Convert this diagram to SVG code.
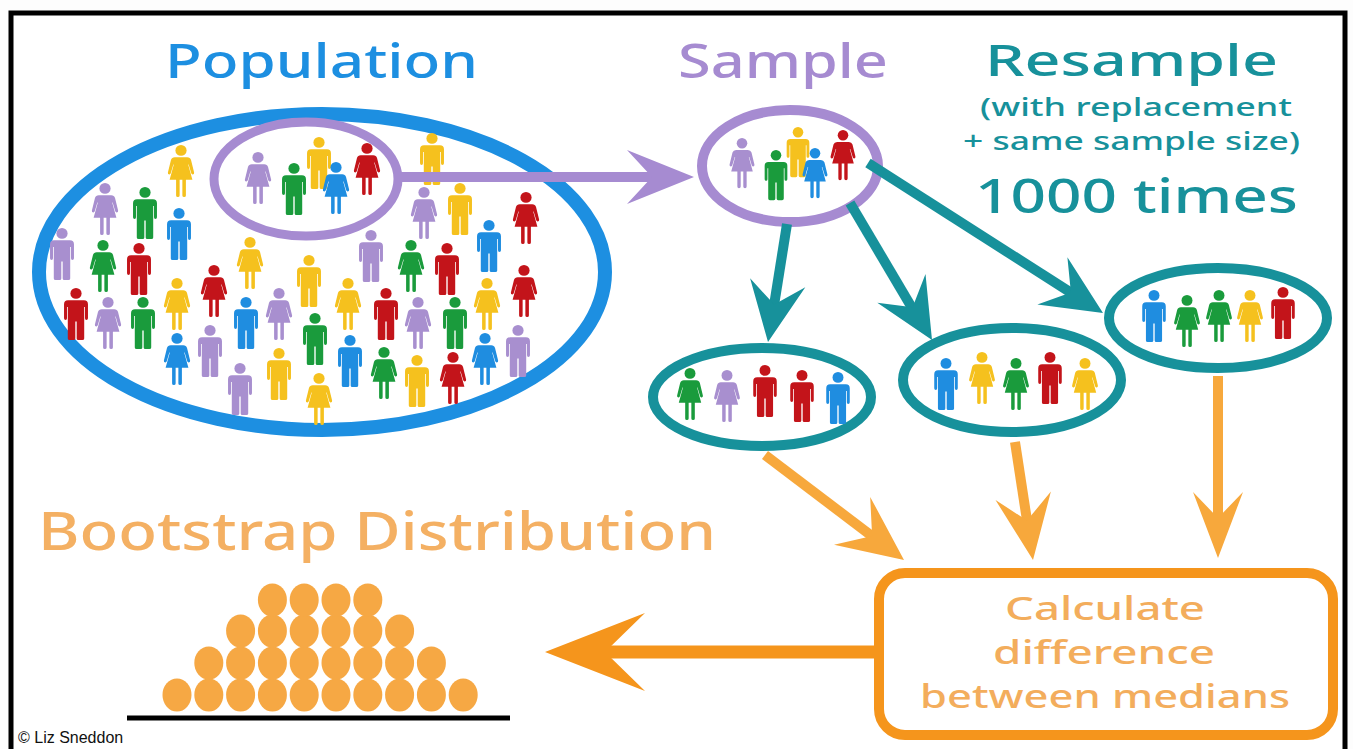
<svg xmlns="http://www.w3.org/2000/svg" xmlns:xlink="http://www.w3.org/1999/xlink" width="1353" height="749" viewBox="0 0 1353 749">
<style>
  .title{font-family:"Noto Sans","DejaVu Sans",sans-serif;font-weight:500}
  .sub{font-family:"Noto Sans","DejaVu Sans",sans-serif;font-weight:500}
  .b{fill:#1f8de0}.g{fill:#1a9b3c}.y{fill:#f5c11e}.r{fill:#c3141a}.p{fill:#a88fcf}
  .teal{stroke:#17919b;fill:none;stroke-width:10}
  .tealhead{fill:#17919b}
  .org{stroke:#f7a83c;fill:none;stroke-width:10}
  .orghead{fill:#f7a83c}
  .dot{fill:#f6a844}
</style>
<defs>
  <!-- pictogram figures, origin at top centre of head, about 46 units tall -->
  <g id="man">
    <circle cx="0" cy="4.8" r="4.9"/>
    <path d="M -7,11 H 7 Q 10.5,11 10.5,14.5 V 27 Q 10.5,28.5 9.1,28.5 Q 7.9,28.5 7.9,27 V 17 H 7.2 V 45 Q 7.2,46.5 5.6,46.5 H 2 Q 0.6,46.5 0.6,45 V 30 H -0.6 V 45 Q -0.6,46.5 -2,46.5 H -5.6 Q -7.2,46.5 -7.2,45 V 17 H -7.9 V 27 Q -7.9,28.5 -9.1,28.5 Q -10.5,28.5 -10.5,27 V 14.5 Q -10.5,11 -7,11 Z"/>
  </g>
  <g id="woman">
    <circle cx="0" cy="4.8" r="4.9"/>
    <path d="M -5.5,11 H 5.5 Q 8,11 8.8,13.5 L 11.5,24.5 Q 11.8,26 10.5,26.3 Q 9.3,26.5 9,25.3 L 6.7,17.5 L 6.3,17.5 L 10,31 H 4.3 V 45 Q 4.3,46.5 2.8,46.5 Q 1.2,46.5 1.2,45 V 31 H -1.2 V 45 Q -1.2,46.5 -2.8,46.5 Q -4.3,46.5 -4.3,45 V 31 H -10 L -6.3,17.5 L -6.7,17.5 L -9,25.3 Q -9.3,26.5 -10.5,26.3 Q -11.8,26 -11.5,24.5 L -8.8,13.5 Q -8,11 -5.5,11 Z"/>
  </g>
</defs>

<rect x="0" y="0" width="1353" height="749" fill="#fdfdfd"/>
<!-- outer frame -->
<rect x="11" y="13" width="1334" height="760" fill="#ffffff" stroke="#000" stroke-width="5"/>

<!-- headings -->
<g id="labels">
  <text class="title" x="165" y="78" font-size="48" fill="#1d8fe1" textLength="313" lengthAdjust="spacingAndGlyphs">Population</text>
  <text class="title" x="678" y="78" font-size="48" fill="#a68bd1" textLength="210" lengthAdjust="spacingAndGlyphs">Sample</text>
  <text class="title" x="985" y="76" font-size="44" fill="#17919b" textLength="293" lengthAdjust="spacingAndGlyphs">Resample</text>
  <text class="sub" x="980" y="116" font-size="25" fill="#17919b" textLength="312" lengthAdjust="spacingAndGlyphs">(with replacement</text>
  <text class="sub" x="963" y="150" font-size="25" fill="#17919b" textLength="337" lengthAdjust="spacingAndGlyphs">+ same sample size)</text>
  <text class="title" x="975" y="213" font-size="48" fill="#17919b" textLength="323" lengthAdjust="spacingAndGlyphs">1000 times</text>
  <text class="title" x="38" y="550" font-size="52" fill="#f4b063" textLength="678" lengthAdjust="spacingAndGlyphs">Bootstrap Distribution</text>
  <text x="18" y="743" font-family="Liberation Sans, Arial, sans-serif" font-size="16" fill="#111">© Liz Sneddon</text>
</g>

<!-- population -->
<g id="population">
  <ellipse cx="322" cy="272" rx="283" ry="158" fill="none" stroke="#1d8fe1" stroke-width="14"/>
  <g transform="translate(181,145) scale(1.14,1.12)"><use xlink:href="#woman" class="y"/></g>
  <g transform="translate(258,152) scale(1.14,1.12)"><use xlink:href="#woman" class="p"/></g>
  <g transform="translate(294,163) scale(1.14,1.12)"><use xlink:href="#man" class="g"/></g>
  <g transform="translate(319,137) scale(1.14,1.12)"><use xlink:href="#man" class="y"/></g>
  <g transform="translate(336,162) scale(1.14,1.12)"><use xlink:href="#woman" class="b"/></g>
  <g transform="translate(367,143) scale(1.14,1.12)"><use xlink:href="#woman" class="r"/></g>
  <g transform="translate(432,133) scale(1.14,1.12)"><use xlink:href="#man" class="y"/></g>
  <g transform="translate(105,183) scale(1.14,1.12)"><use xlink:href="#woman" class="p"/></g>
  <g transform="translate(145,187) scale(1.14,1.12)"><use xlink:href="#man" class="g"/></g>
  <g transform="translate(179,208) scale(1.14,1.12)"><use xlink:href="#man" class="b"/></g>
  <g transform="translate(424,187) scale(1.14,1.12)"><use xlink:href="#woman" class="p"/></g>
  <g transform="translate(460,183) scale(1.14,1.12)"><use xlink:href="#man" class="y"/></g>
  <g transform="translate(526,192) scale(1.14,1.12)"><use xlink:href="#woman" class="r"/></g>
  <g transform="translate(62,228) scale(1.14,1.12)"><use xlink:href="#man" class="p"/></g>
  <g transform="translate(103,240) scale(1.14,1.12)"><use xlink:href="#woman" class="g"/></g>
  <g transform="translate(139,243) scale(1.14,1.12)"><use xlink:href="#man" class="r"/></g>
  <g transform="translate(250,237) scale(1.14,1.12)"><use xlink:href="#woman" class="y"/></g>
  <g transform="translate(371,230) scale(1.14,1.12)"><use xlink:href="#man" class="p"/></g>
  <g transform="translate(489,220) scale(1.14,1.12)"><use xlink:href="#man" class="b"/></g>
  <g transform="translate(411,240) scale(1.14,1.12)"><use xlink:href="#woman" class="g"/></g>
  <g transform="translate(447,243) scale(1.14,1.12)"><use xlink:href="#man" class="r"/></g>
  <g transform="translate(214,265) scale(1.14,1.12)"><use xlink:href="#woman" class="r"/></g>
  <g transform="translate(309,255) scale(1.14,1.12)"><use xlink:href="#man" class="y"/></g>
  <g transform="translate(524,265) scale(1.14,1.12)"><use xlink:href="#woman" class="r"/></g>
  <g transform="translate(76,288) scale(1.14,1.12)"><use xlink:href="#man" class="r"/></g>
  <g transform="translate(108,297) scale(1.14,1.12)"><use xlink:href="#woman" class="p"/></g>
  <g transform="translate(143,297) scale(1.14,1.12)"><use xlink:href="#man" class="g"/></g>
  <g transform="translate(177,278) scale(1.14,1.12)"><use xlink:href="#woman" class="y"/></g>
  <g transform="translate(246,297) scale(1.14,1.12)"><use xlink:href="#man" class="b"/></g>
  <g transform="translate(279,288) scale(1.14,1.12)"><use xlink:href="#woman" class="p"/></g>
  <g transform="translate(348,278) scale(1.14,1.12)"><use xlink:href="#woman" class="y"/></g>
  <g transform="translate(386,288) scale(1.14,1.12)"><use xlink:href="#man" class="r"/></g>
  <g transform="translate(418,297) scale(1.14,1.12)"><use xlink:href="#woman" class="p"/></g>
  <g transform="translate(455,297) scale(1.14,1.12)"><use xlink:href="#man" class="g"/></g>
  <g transform="translate(487,278) scale(1.14,1.12)"><use xlink:href="#woman" class="y"/></g>
  <g transform="translate(177,333) scale(1.14,1.12)"><use xlink:href="#woman" class="b"/></g>
  <g transform="translate(210,325) scale(1.14,1.12)"><use xlink:href="#man" class="p"/></g>
  <g transform="translate(315,313) scale(1.14,1.12)"><use xlink:href="#man" class="g"/></g>
  <g transform="translate(350,335) scale(1.14,1.12)"><use xlink:href="#man" class="b"/></g>
  <g transform="translate(240,363) scale(1.14,1.12)"><use xlink:href="#man" class="p"/></g>
  <g transform="translate(279,348) scale(1.14,1.12)"><use xlink:href="#man" class="y"/></g>
  <g transform="translate(384,347) scale(1.14,1.12)"><use xlink:href="#woman" class="g"/></g>
  <g transform="translate(417,355) scale(1.14,1.12)"><use xlink:href="#man" class="y"/></g>
  <g transform="translate(453,352) scale(1.14,1.12)"><use xlink:href="#woman" class="r"/></g>
  <g transform="translate(485,333) scale(1.14,1.12)"><use xlink:href="#woman" class="b"/></g>
  <g transform="translate(518,325) scale(1.14,1.12)"><use xlink:href="#man" class="p"/></g>
  <g transform="translate(319,373) scale(1.14,1.12)"><use xlink:href="#woman" class="y"/></g>
  <!-- ring picking out the sample -->
  <ellipse cx="306" cy="179" rx="92" ry="57" fill="none" stroke="#a68bd1" stroke-width="9"/>
</g>

<!-- sample -->
<g id="sample">
  <ellipse cx="790" cy="166" rx="88" ry="56" fill="none" stroke="#a68bd1" stroke-width="10"/>
  <g transform="translate(742,138) scale(1.08)"><use xlink:href="#woman" class="p"/></g>
  <g transform="translate(776,150) scale(1.08)"><use xlink:href="#man" class="g"/></g>
  <g transform="translate(798,127) scale(1.08)"><use xlink:href="#man" class="y"/></g>
  <g transform="translate(815,148) scale(1.08)"><use xlink:href="#woman" class="b"/></g>
  <g transform="translate(843,130) scale(1.08)"><use xlink:href="#woman" class="r"/></g>
</g>

<!-- resamples -->
<g id="resample1">
  <ellipse cx="762" cy="397" rx="109" ry="49" fill="none" stroke="#17919b" stroke-width="10"/>
  <g transform="translate(690,368) scale(1.12)"><use xlink:href="#woman" class="g"/></g>
  <g transform="translate(727,370) scale(1.12)"><use xlink:href="#woman" class="p"/></g>
  <g transform="translate(765,365) scale(1.12)"><use xlink:href="#man" class="r"/></g>
  <g transform="translate(802,370) scale(1.12)"><use xlink:href="#man" class="r"/></g>
  <g transform="translate(838,372) scale(1.12)"><use xlink:href="#man" class="b"/></g>
</g>
<g id="resample2">
  <ellipse cx="1012" cy="380" rx="109" ry="52" fill="none" stroke="#17919b" stroke-width="10"/>
  <g transform="translate(946,358) scale(1.12)"><use xlink:href="#man" class="b"/></g>
  <g transform="translate(982,352) scale(1.12)"><use xlink:href="#woman" class="y"/></g>
  <g transform="translate(1016,358) scale(1.12)"><use xlink:href="#woman" class="g"/></g>
  <g transform="translate(1050,352) scale(1.12)"><use xlink:href="#man" class="r"/></g>
  <g transform="translate(1085,358) scale(1.12)"><use xlink:href="#woman" class="y"/></g>
</g>
<g id="resample3">
  <ellipse cx="1218" cy="318" rx="109" ry="50" fill="none" stroke="#17919b" stroke-width="10"/>
  <g transform="translate(1154,290) scale(1.12)"><use xlink:href="#man" class="b"/></g>
  <g transform="translate(1187,295) scale(1.12)"><use xlink:href="#woman" class="g"/></g>
  <g transform="translate(1219,290) scale(1.12)"><use xlink:href="#woman" class="g"/></g>
  <g transform="translate(1250,290) scale(1.12)"><use xlink:href="#woman" class="y"/></g>
  <g transform="translate(1283,287) scale(1.12)"><use xlink:href="#man" class="r"/></g>
</g>

<!-- calculation box -->
<g id="calculate">
  <rect x="879" y="573" width="454" height="162" rx="26" fill="#fff" stroke="#f5951c" stroke-width="10"/>
  <g class="sub" font-size="32" fill="#f3ad5c" text-anchor="middle">
    <text x="1105" y="620" textLength="200" lengthAdjust="spacingAndGlyphs">Calculate</text>
    <text x="1104" y="664" textLength="222" lengthAdjust="spacingAndGlyphs">difference</text>
    <text x="1105" y="708" textLength="370" lengthAdjust="spacingAndGlyphs">between medians</text>
  </g>
</g>

<!-- bootstrap distribution dot plot -->
<g id="distribution">
  <g class="dot">
    <ellipse cx="177" cy="695" rx="14.5" ry="16.5"/><ellipse cx="208.8" cy="695" rx="14.5" ry="16.5"/><ellipse cx="240.6" cy="695" rx="14.5" ry="16.5"/><ellipse cx="272.4" cy="695" rx="14.5" ry="16.5"/><ellipse cx="304.2" cy="695" rx="14.5" ry="16.5"/><ellipse cx="336" cy="695" rx="14.5" ry="16.5"/><ellipse cx="367.8" cy="695" rx="14.5" ry="16.5"/><ellipse cx="399.6" cy="695" rx="14.5" ry="16.5"/><ellipse cx="431.4" cy="695" rx="14.5" ry="16.5"/><ellipse cx="463.2" cy="695" rx="14.5" ry="16.5"/>
    <ellipse cx="208.8" cy="663" rx="14.5" ry="16.5"/><ellipse cx="240.6" cy="663" rx="14.5" ry="16.5"/><ellipse cx="272.4" cy="663" rx="14.5" ry="16.5"/><ellipse cx="304.2" cy="663" rx="14.5" ry="16.5"/><ellipse cx="336" cy="663" rx="14.5" ry="16.5"/><ellipse cx="367.8" cy="663" rx="14.5" ry="16.5"/><ellipse cx="399.6" cy="663" rx="14.5" ry="16.5"/><ellipse cx="431.4" cy="663" rx="14.5" ry="16.5"/>
    <ellipse cx="240.6" cy="631" rx="14.5" ry="16.5"/><ellipse cx="272.4" cy="631" rx="14.5" ry="16.5"/><ellipse cx="304.2" cy="631" rx="14.5" ry="16.5"/><ellipse cx="336" cy="631" rx="14.5" ry="16.5"/><ellipse cx="367.8" cy="631" rx="14.5" ry="16.5"/><ellipse cx="399.6" cy="631" rx="14.5" ry="16.5"/>
    <ellipse cx="272.4" cy="600" rx="14.5" ry="16.5"/><ellipse cx="304.2" cy="600" rx="14.5" ry="16.5"/><ellipse cx="336" cy="600" rx="14.5" ry="16.5"/><ellipse cx="367.8" cy="600" rx="14.5" ry="16.5"/>
  </g>
  <line x1="127" y1="718" x2="510" y2="718" stroke="#000" stroke-width="5"/>
</g>

<!-- connectors -->
<g id="connectors">
  <!-- population sample to sample -->
  <line x1="400" y1="177" x2="670" y2="177" stroke="#a68bd1" stroke-width="10"/>
  <path d="M 694,177 L 627,150 L 652,177 L 627,204 Z" fill="#a68bd1"/>
  <!-- sample to resamples -->
  <line class="teal" x1="787" y1="224" x2="772" y2="318"/>
  <path class="tealhead" d="M 768,342 L 750.1,278.3 L 774.2,304.5 L 805.3,287.3 Z"/>
  <line class="teal" x1="850" y1="203" x2="918" y2="318"/>
  <path class="tealhead" d="M 932,340 L 925.5,274.1 L 912.6,307.3 L 877.3,302.7 Z"/>
  <line class="teal" x1="868" y1="163" x2="1084" y2="301"/>
  <path class="tealhead" d="M 1103,313 L 1067.4,257.2 L 1070.9,292.6 L 1037.4,304.4 Z"/>
  <!-- resamples to calculation -->
  <line class="org" x1="765" y1="455" x2="885" y2="546"/>
  <path class="orghead" d="M 904,560 L 870.2,496.9 L 872.1,535.9 L 834,544.7 Z"/>
  <line class="org" x1="1015" y1="442" x2="1030" y2="540"/>
  <path class="orghead" d="M 1033,560 L 1050.9,491.6 L 1027,520.5 L 995.5,500 Z"/>
  <line class="org" x1="1218" y1="376" x2="1218" y2="535"/>
  <path class="orghead" d="M 1218,558 L 1243,492 L 1218,518 L 1193,492 Z"/>
  <!-- calculation to distribution -->
  <line x1="876" y1="652" x2="590" y2="652" stroke="#f5951c" stroke-width="13"/>
  <path d="M 545,652 L 645,613 L 605,652 L 645,691 Z" fill="#f5951c"/>
</g>
</svg>
